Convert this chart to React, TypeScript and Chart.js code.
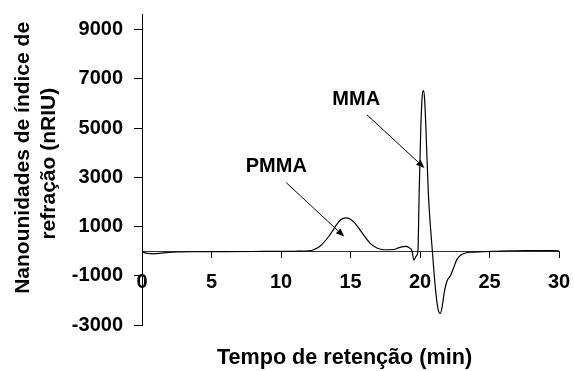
import React, { useEffect, useRef } from "react";
import { Chart, registerables } from "chart.js";

Chart.register(...registerables);

// Refractive-index detector trace (retention time in min, signal in nRIU)
const retentionTime = [
  0, 0.4, 0.8, 1.5, 2.5, 4, 6, 8, 10, 11, 12, 12.26, 12.8, 13.5, 14, 14.3,
  14.65, 15, 15.3, 15.9, 16.4, 16.9, 17.4, 18.1, 18.5, 18.95, 19.2, 19.43,
  19.56, 19.72, 19.85, 19.94, 20.06, 20.16, 20.25, 20.33, 20.42, 20.6, 20.89,
  21.14, 21.3, 21.45, 21.58, 21.74, 21.95, 22.17, 22.4, 22.65, 22.9, 23.13,
  23.6, 24.5, 25.5, 26.5, 27.5, 28.5, 30,
];
const riSignal = [
  -20, -90, -105, -70, -30, -20, -15, -10, -5, 0, 20, 40, 200, 650, 1080, 1280,
  1355, 1300, 1150, 700, 330, 130, 60, 70, 150, 200, 150, 0,
  -360, -200, 0, 2370, 5070, 6300, 6530, 6200, 5070, 2370, 0,
  -1690, -2350, -2530, -2300, -1690, -1200, -1014, -700, -340, -170, -100,
  -40, -20, 0, 20, 30, 30, 20,
];

const xTickValues = [0, 5, 10, 15, 20, 25, 30];
const yTickValues = [-3000, -1000, 1000, 3000, 5000, 7000, 9000];

// Peak call-outs: label position, arrow tail and arrow tip, in data units
const peakNames = ["PMMA", "MMA"];
const labelTime = [9.66, 15.41];
const labelSignal = [3436, 6155];
const arrowTailTime = [10.38, 16.18];
const arrowTailSignal = [2787, 5546];
const arrowTipTime = [14.55, 20.32];
const arrowTipSignal = [596, 3384];

const FONT = "'Liberation Sans', Arial, sans-serif";

const peakCallouts = {
  id: "peakCallouts",
  afterDatasetsDraw(chart: any) {
    const { ctx, scales } = chart;
    const xs = scales.x;
    const ys = scales.y;
    ctx.save();
    ctx.fillStyle = "#000";
    ctx.strokeStyle = "#000";
    ctx.lineWidth = 1;
    ctx.font = `bold 20px ${FONT}`;
    ctx.textAlign = "center";
    ctx.textBaseline = "middle";
    peakNames.forEach((name, i) => {
      ctx.fillText(
        name,
        xs.getPixelForValue(labelTime[i]),
        ys.getPixelForValue(labelSignal[i])
      );
      const x0 = xs.getPixelForValue(arrowTailTime[i]);
      const y0 = ys.getPixelForValue(arrowTailSignal[i]);
      const x1 = xs.getPixelForValue(arrowTipTime[i]);
      const y1 = ys.getPixelForValue(arrowTipSignal[i]);
      const ang = Math.atan2(y1 - y0, x1 - x0);
      const head = 9;
      const spread = 0.38;
      const bx = x1 - head * Math.cos(ang);
      const by = y1 - head * Math.sin(ang);
      ctx.beginPath();
      ctx.moveTo(x0, y0);
      ctx.lineTo(bx, by);
      ctx.stroke();
      ctx.beginPath();
      ctx.moveTo(x1, y1);
      ctx.lineTo(
        x1 - head * Math.cos(ang - spread),
        y1 - head * Math.sin(ang - spread)
      );
      ctx.lineTo(
        x1 - head * Math.cos(ang + spread),
        y1 - head * Math.sin(ang + spread)
      );
      ctx.closePath();
      ctx.fill();
    });
    ctx.restore();
  },
};

// Tick labels may overhang the plot edges, so the scales reserve no extra room
const noOverhang = (scale: any) => {
  scale.paddingTop = 0;
  scale.paddingBottom = 0;
  scale.paddingLeft = 0;
  scale.paddingRight = 0;
};

export default function App() {
  const canvasRef = useRef<HTMLCanvasElement | null>(null);

  useEffect(() => {
    const canvas = canvasRef.current;
    if (!canvas) return;
    const points = retentionTime.map((t, i) => ({ x: t, y: riSignal[i] }));
    const chart = new Chart(canvas, {
      type: "line",
      data: {
        datasets: [
          {
            data: points,
            borderColor: "#000",
            borderWidth: 1.2,
            pointRadius: 0,
            fill: false,
            cubicInterpolationMode: "monotone",
          },
        ],
      },
      options: {
        responsive: false,
        animation: false,
        layout: { padding: { top: 14, right: 15, bottom: 0, left: 0 } },
        plugins: {
          legend: { display: false },
          tooltip: { enabled: false },
          title: {
            display: true,
            position: "bottom",
            fullSize: false,
            text: "Tempo de retenção (min)  ",
            color: "#000",
            font: { family: FONT, size: 21.6, weight: "bold" },
            padding: { top: 20, bottom: 0 },
          },
        },
        scales: {
          x: {
            type: "linear",
            position: { y: 0 } as any,
            min: 0,
            max: 30,
            afterBuildTicks: (scale: any) => {
              scale.ticks = xTickValues.map((v) => ({ value: v }));
            },
            afterFit: noOverhang,
            grid: {
              display: true,
              drawOnChartArea: false,
              drawTicks: true,
              tickLength: 6,
              color: "#000",
            },
            border: { display: true, color: "#333", width: 1 },
            ticks: {
              color: "#000",
              padding: 13,
              maxRotation: 0,
              callback: (v: any) => String(v),
              font: { family: FONT, size: 20, weight: "bold" },
            },
          },
          y: {
            type: "linear",
            position: "left",
            min: -3000,
            max: 9640,
            afterBuildTicks: (scale: any) => {
              scale.ticks = yTickValues.map((v) => ({ value: v }));
            },
            afterFit: (scale: any) => {
              scale.width = 142;
              noOverhang(scale);
            },
            grid: {
              display: true,
              drawOnChartArea: false,
              drawTicks: true,
              tickLength: 8,
              color: "#000",
            },
            border: { display: true, color: "#000", width: 1 },
            ticks: {
              color: "#000",
              padding: 11,
              callback: (v: any) => String(v),
              font: { family: FONT, size: 20, weight: "bold" },
            },
            title: {
              display: true,
              text: ["    Nanounidades de índice de", "  refração (nRIU)"],
              color: "#000",
              font: { family: FONT, size: 21, weight: "bold" },
              padding: { top: 11, bottom: 0 },
            },
          },
        },
      },
      plugins: [peakCallouts],
    });
    return () => chart.destroy();
  }, []);

  return (
    <div style={{ position: "absolute", left: 0, top: 0, width: 574, height: 371 }}>
      <canvas
        ref={canvasRef}
        width={574}
        height={371}
        style={{ display: "block", width: 574, height: 371 }}
      />
    </div>
  );
}
